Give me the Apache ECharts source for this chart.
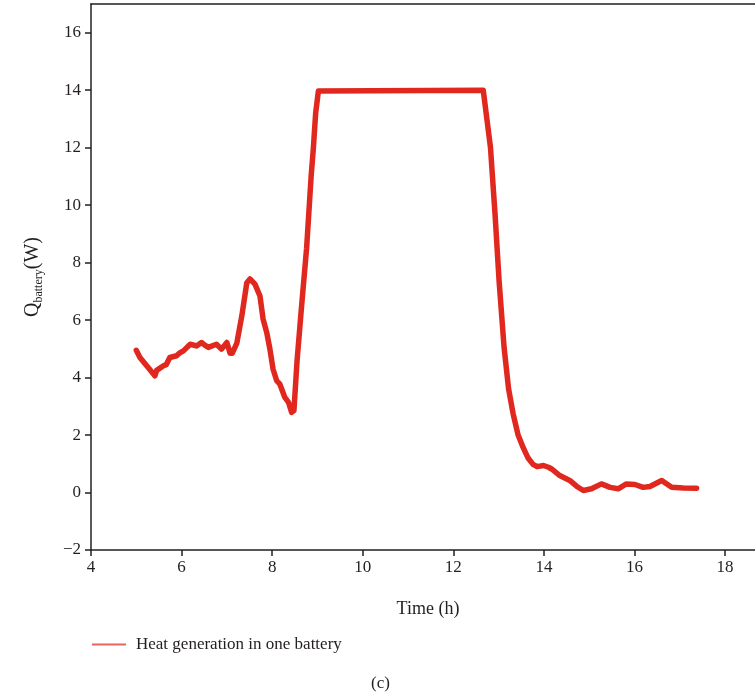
<!DOCTYPE html>
<html>
<head>
<meta charset="utf-8">
<script src="https://cdn.jsdelivr.net/npm/echarts@6/dist/echarts.min.js"></script>
<style>html,body{margin:0;padding:0;background:#fff}#c{width:755px;height:699px}</style>
</head>
<body>
<div id="c"></div>
<script>
const timeH = [5.00,5.08,5.23,5.41,5.45,5.49,5.60,5.66,5.74,5.89,5.95,6.04,6.19,6.33,6.44,6.52,6.59,6.77,6.88,7.00,7.07,7.12,7.22,7.33,7.44,7.51,7.62,7.73,7.80,7.88,7.95,8.02,8.10,8.17,8.28,8.36,8.43,8.48,8.55,8.65,8.76,8.86,8.91,8.96,9.02,12.66,12.74,12.82,12.92,13.01,13.12,13.22,13.32,13.43,13.54,13.65,13.76,13.85,13.99,14.10,14.17,14.35,14.57,14.72,14.87,15.05,15.27,15.46,15.64,15.82,16.01,16.19,16.34,16.60,16.82,17.08,17.37];
const heatW = [4.95,4.70,4.41,4.06,4.25,4.29,4.41,4.45,4.70,4.76,4.85,4.93,5.16,5.10,5.22,5.12,5.05,5.16,4.99,5.22,4.85,4.85,5.20,6.15,7.30,7.43,7.25,6.84,6.03,5.57,4.99,4.29,3.89,3.77,3.31,3.14,2.79,2.85,4.6,6.5,8.5,11.0,12.0,13.2,13.97,14.0,13.0,12.0,9.7,7.36,5.05,3.6,2.74,2.0,1.57,1.2,0.98,0.90,0.94,0.88,0.82,0.59,0.42,0.22,0.07,0.13,0.30,0.18,0.13,0.30,0.28,0.18,0.21,0.42,0.18,0.16,0.15];
const xTicks = [4,6,8,10,12,14,16,18];
const yTicks = [-2,0,2,4,6,8,10,12,14,16];
const seriesName = 'Heat generation in one battery';

const FONT = '"Liberation Serif", "DejaVu Serif", serif';
const INK = '#231f20';
const chart = echarts.init(document.getElementById('c'), null, {renderer:'canvas'});
chart.setOption({
  animation:false,
  backgroundColor:'#fff',
  textStyle:{fontFamily:FONT, color:INK},
  grid:{left:91, top:4, right:0, bottom:149, containLabel:false},
  title:{text:'(c)', left:366, top:670, textStyle:{fontFamily:FONT, fontWeight:'normal', fontSize:17, color:INK}},
  legend:{
    left:92, top:636, padding:0, itemWidth:34, itemHeight:2, itemGap:10,
    data:[{name:seriesName, icon:'rect'}],
    itemStyle:{color:'#e8655f'},
    textStyle:{fontFamily:FONT, fontSize:17, color:INK, padding:[0,0,0,5]}
  },
  xAxis:[{
    type:'value', min:4, max:18.66, interval:2,
    name:'Time (h)', nameLocation:'middle', nameGap:50,
    nameTextStyle:{fontFamily:FONT, fontSize:18, color:INK, padding:[0,0,0,10]},
    axisLine:{onZero:false, lineStyle:{color:INK, width:1.5}},
    axisTick:{show:true, length:6, lineStyle:{color:INK, width:1.5}, customValues:xTicks},
    axisLabel:{fontFamily:FONT, fontSize:17, color:INK, margin:9, customValues:xTicks},
    splitLine:{show:false}
  },{
    type:'value', position:'top', min:4, max:18.66,
    axisLine:{show:true, onZero:false, lineStyle:{color:INK, width:1.5}},
    axisTick:{show:false}, axisLabel:{show:false}, splitLine:{show:false}
  }],
  yAxis:{
    type:'value', min:-2, max:17, interval:2,
    name:'{q|Q}{s|battery}{q|(W)}', nameLocation:'middle', nameGap:46, nameRotate:90,
    nameTextStyle:{
      rich:{
        q:{fontFamily:FONT, fontSize:20, color:INK},
        s:{fontFamily:FONT, fontSize:12, color:INK, verticalAlign:'bottom', padding:[12,0,0,0]}
      }
    },
    axisLine:{show:true, onZero:false, lineStyle:{color:INK, width:1.5}},
    axisTick:{show:true, length:6, lineStyle:{color:INK, width:1.5}, customValues:yTicks},
    axisLabel:{fontFamily:FONT, fontSize:17, color:INK, margin:10, customValues:yTicks,
      formatter:v=>String(v).replace('-', '\u2212')},
    splitLine:{show:false}
  },
  series:[{
    name:seriesName, type:'line', symbol:'none', smooth:false,
    data: timeH.map((t,i)=>[t, heatW[i]]),
    lineStyle:{color:'#e0281f', width:5.5, cap:'round', join:'round'},
    itemStyle:{color:'#e8655f'}
  }]
});
</script>
</body>
</html>
